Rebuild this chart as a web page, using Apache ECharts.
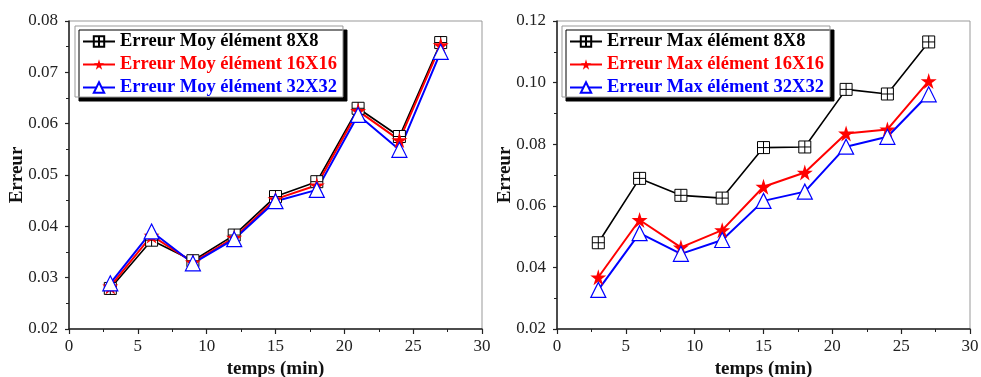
<!DOCTYPE html>
<html>
<head>
<meta charset="utf-8">
<script src="https://cdn.jsdelivr.net/npm/echarts@6/dist/echarts.min.js"></script>
<style>
html,body{margin:0;padding:0;background:#fff;}
#c{width:981px;height:377px;}
</style>
</head>
<body>
<div id="c"></div>
<script>
const times = [3, 6, 9, 12, 15, 18, 21, 24, 27];
const moy8 = [0.0279, 0.0373, 0.0333, 0.0383, 0.0458, 0.0487, 0.0630, 0.0575, 0.0758];
const moy16 = [0.0283, 0.0382, 0.0330, 0.0378, 0.0453, 0.0480, 0.0625, 0.0568, 0.0753];
const moy32 = [0.0289, 0.0390, 0.0328, 0.0375, 0.0449, 0.0471, 0.0617, 0.0549, 0.0740];
const max8 = [0.0480, 0.0689, 0.0634, 0.0625, 0.0789, 0.0791, 0.0978, 0.0963, 0.1132];
const max16 = [0.0368, 0.0554, 0.0465, 0.0521, 0.0662, 0.0708, 0.0835, 0.0848, 0.1005];
const max32 = [0.0327, 0.0511, 0.0444, 0.0489, 0.0616, 0.0646, 0.0792, 0.0824, 0.0962];
const namesMoy = ['Erreur Moy élément 8X8', 'Erreur Moy élément 16X16', 'Erreur Moy élément 32X32'];
const namesMax = ['Erreur Max élément 8X8', 'Erreur Max élément 16X16', 'Erreur Max élément 32X32'];
const colors = ['#000000', '#ff0000', '#0000ff'];

const FONT = '"Liberation Serif", serif';
const squareCross = 'path://M0,0H20V20H0Z M10,0V20 M0,10H20';
const star = 'path://M50,0L61,35L98,35L68,57L79,91L50,70L21,91L32,57L2,35L39,35Z';

function pairs(vals){ return times.map((t,i)=>[t, vals[i]]); }

function mkSeries(names, arrs, idx){
  const styles = [
    {symbol: squareCross, symbolSize: 12, itemStyle:{color:'#fff', borderColor:'#000', borderWidth:1}},
    {symbol: star, symbolSize: 16, itemStyle:{color:'#ff0000', borderColor:'#ff0000', borderWidth:0}},
    {symbol: 'triangle', symbolSize: 15, itemStyle:{color:'#fff', borderColor:'#0000ff', borderWidth:1.2}}
  ];
  return arrs.map((a,i)=>Object.assign({
    name: names[i], type:'line', xAxisIndex: idx, yAxisIndex: idx,
    data: pairs(a), showSymbol: true, animation:false,
    lineStyle:{color: colors[i], width: i === 0 ? 1.6 : 2}
  }, styles[i]));
}

function xAx(idx){
  return {
    type:'value', gridIndex: idx, min:0, max:30, interval:5,
    name:'temps (min)', nameLocation:'middle', nameGap:25,
    nameTextStyle:{fontFamily:FONT, fontWeight:'bold', fontSize:19, color:'#111'},
    axisLine:{show:true, lineStyle:{color:'#222', width:1.5}},
    axisTick:{show:true, inside:false, length:5, lineStyle:{color:'#222', width:1.2}},
    minorTick:{show:true, splitNumber:2, length:3, lineStyle:{color:'#222', width:1}},
    splitLine:{show:false},
    axisLabel:{fontFamily:FONT, fontSize:17, color:'#222', margin:9}
  };
}
function yAx(idx, min, max, itv){
  return {
    type:'value', gridIndex: idx, min:min, max:max, interval:itv,
    name:'Erreur', nameLocation:'middle', nameGap:42, nameRotate:90, nameMoveOverlap:false,
    nameTextStyle:{fontFamily:FONT, fontWeight:'bold', fontSize:19, color:'#111'},
    axisLine:{show:true, lineStyle:{color:'#222', width:1.5}},
    axisTick:{show:true, inside:false, length:4, lineStyle:{color:'#222', width:1.2}},
    minorTick:{show:true, splitNumber:2, length:3, lineStyle:{color:'#222', width:1}},
    splitLine:{show:false},
    axisLabel:{fontFamily:FONT, fontSize:17, color:'#222', margin:11, formatter:(v)=>v.toFixed(2)}
  };
}
function legend(names, left){
  return {
    orient:'vertical', left:left, top:26,
    data: names.map((n,i)=>({name:n, textStyle:{color:colors[i]}})),
    itemWidth:32, itemHeight:13, itemGap:4,
    padding:[6,6,0,7],
    backgroundColor:'#fff', borderColor:'#999', borderWidth:1,
    shadowColor:'#000', shadowBlur:0, shadowOffsetX:4, shadowOffsetY:4,
    textStyle:{fontFamily:FONT, fontWeight:'bold', fontSize:18.5, lineHeight:19},
    selectedMode:false
  };
}

const chart = echarts.init(document.getElementById('c'), null, {renderer:'canvas'});
chart.setOption({
  backgroundColor:'#fff',
  animation:false,
  grid:[
    {left:69, top:21, width:413, height:308, show:true, borderColor:'#999', borderWidth:1, backgroundColor:'transparent', containLabel:false, outerBoundsMode:'none'},
    {left:557, top:21, width:413, height:308, show:true, borderColor:'#999', borderWidth:1, backgroundColor:'transparent', containLabel:false, outerBoundsMode:'none'}
  ],
  xAxis:[xAx(0), xAx(1)],
  yAxis:[yAx(0, 0.02, 0.08, 0.01), yAx(1, 0.02, 0.12, 0.02)],
  legend:[legend(namesMoy, 75), legend(namesMax, 562)],
  series: mkSeries(namesMoy, [moy8, moy16, moy32], 0).concat(mkSeries(namesMax, [max8, max16, max32], 1))
});
</script>
</body>
</html>
